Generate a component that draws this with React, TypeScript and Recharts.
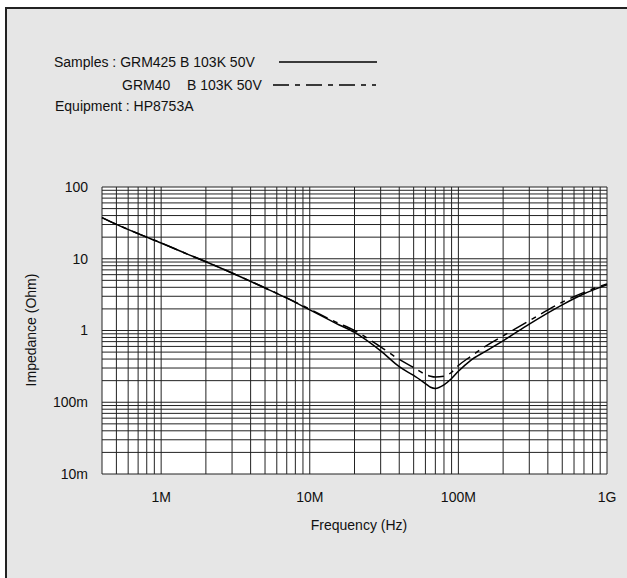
import { LineChart, Line, XAxis, YAxis, CartesianGrid } from 'recharts';

const freqHz = [
  4e5, 5e5, 7e5, 1e6, 1.5e6, 2e6, 3e6, 5e6, 7e6, 1e7, 1.5e7, 2e7, 3e7, 4e7,
  5e7, 6e7, 6.5e7, 7e7, 8e7, 9e7, 1e8, 1.2e8, 1.5e8, 2e8, 3e8, 5e8, 7e8, 1e9,
];
const grm425 = [
  37.5, 30.2, 22.4, 16.6, 11.6, 9.1, 6.34, 3.91, 2.82, 1.94, 1.26, 0.94, 0.52, 0.313,
  0.236, 0.182, 0.162, 0.156, 0.175, 0.214, 0.27, 0.378, 0.505, 0.718, 1.23, 2.28, 3.25, 4.33,
];
const grm40 = [
  37.5, 30.2, 22.4, 16.6, 11.6, 9.1, 6.34, 3.93, 2.85, 1.98, 1.31, 1.0, 0.59, 0.395,
  0.305, 0.245, 0.23, 0.224, 0.23, 0.262, 0.325, 0.43, 0.59, 0.84, 1.37, 2.48, 3.4, 4.45,
];

const xGridTicks = [
  4e5, 5e5, 6e5, 7e5, 8e5, 9e5,
  1e6, 2e6, 3e6, 4e6, 5e6, 6e6, 7e6, 8e6, 9e6,
  1e7, 2e7, 3e7, 4e7, 5e7, 6e7, 7e7, 8e7, 9e7,
  1e8, 2e8, 3e8, 4e8, 5e8, 6e8, 7e8, 8e8, 9e8,
  1e9,
];
const xLabels = [
  { v: 1e6, text: '1M' },
  { v: 1e7, text: '10M' },
  { v: 1e8, text: '100M' },
  { v: 1e9, text: '1G' },
];
const yGridTicks = [
  0.01, 0.02, 0.03, 0.04, 0.05, 0.06, 0.07, 0.08, 0.09,
  0.1, 0.2, 0.3, 0.4, 0.5, 0.6, 0.7, 0.8, 0.9,
  1, 2, 3, 4, 5, 6, 7, 8, 9,
  10, 20, 30, 40, 50, 60, 70, 80, 90,
  100,
];
const yLabels = [
  { v: 100, text: '100' },
  { v: 10, text: '10' },
  { v: 1, text: '1' },
  { v: 0.1, text: '100m' },
  { v: 0.01, text: '10m' },
];

const data = freqHz.map((f, i) => ({ f, a: grm425[i], b: grm40[i] }));

const FONT = '"Liberation Sans", Arial, Helvetica, sans-serif';
const DASH = '16 6 5 6';

const labelFor = (list: { v: number; text: string }[]) => (v: number) => {
  const hit = list.find((l) => Math.abs(l.v - v) / l.v < 1e-6);
  return hit ? hit.text : '';
};

export default function App() {
  return (
    <div style={{ position: 'absolute', left: 0, top: 0, width: 627, height: 578, background: '#fff', overflow: 'hidden', fontFamily: FONT }}>
      <div
        style={{
          position: 'absolute',
          left: 5,
          top: 7,
          width: 640,
          height: 600,
          background: '#e6e6e6',
          borderTop: '2px solid #222',
          borderLeft: '2px solid #222',
        }}
      />
      <div style={{ position: 'absolute', left: 0, top: 0 }}>
        <LineChart width={627} height={578} data={data} margin={{ top: 187, right: 20, bottom: 54, left: 22 }}>
          <CartesianGrid stroke="#222" strokeWidth={1} fill="#fff" fillOpacity={1} />
          <XAxis
            dataKey="f"
            type="number"
            scale="log"
            domain={[4e5, 1e9]}
            ticks={xGridTicks}
            interval={0}
            tickFormatter={labelFor(xLabels)}
            axisLine={false}
            tickLine={false}
            tickSize={0}
            tickMargin={18}
            height={50}
            tick={{ fill: '#111', fontSize: 14, fontFamily: FONT }}
          />
          <YAxis
            type="number"
            scale="log"
            domain={[0.01, 100]}
            ticks={yGridTicks}
            interval={0}
            tickFormatter={labelFor(yLabels)}
            axisLine={false}
            tickLine={false}
            tickSize={0}
            tickMargin={14}
            width={80}
            tick={{ fill: '#111', fontSize: 14, fontFamily: FONT }}
          />
          <Line dataKey="b" type="monotone" stroke="#000" strokeWidth={1.5} strokeDasharray={DASH} dot={false} isAnimationActive={false} />
          <Line dataKey="a" type="monotone" stroke="#000" strokeWidth={1.5} dot={false} isAnimationActive={false} />
        </LineChart>
      </div>
      <svg width={627} height={578} style={{ position: 'absolute', left: 0, top: 0, pointerEvents: 'none' }}>
        <g fontFamily={FONT} fontSize={14} fill="#111">
          <text x={54} y={67}>Samples : GRM425 B 103K 50V</text>
          <text x={122} y={90}>GRM40</text>
          <text x={187} y={90}>B 103K 50V</text>
          <text x={55} y={111}>Equipment : HP8753A</text>
          <text x={359} y={530} textAnchor="middle">Frequency (Hz)</text>
          <text x={36} y={330} textAnchor="middle" transform="rotate(-90 36 330)">Impedance (Ohm)</text>
        </g>
        <line x1={279} y1={62} x2={377} y2={62} stroke="#000" strokeWidth={1.5} />
        <line x1={273} y1={85} x2={376} y2={85} stroke="#000" strokeWidth={1.5} strokeDasharray={DASH} />
      </svg>
    </div>
  );
}
